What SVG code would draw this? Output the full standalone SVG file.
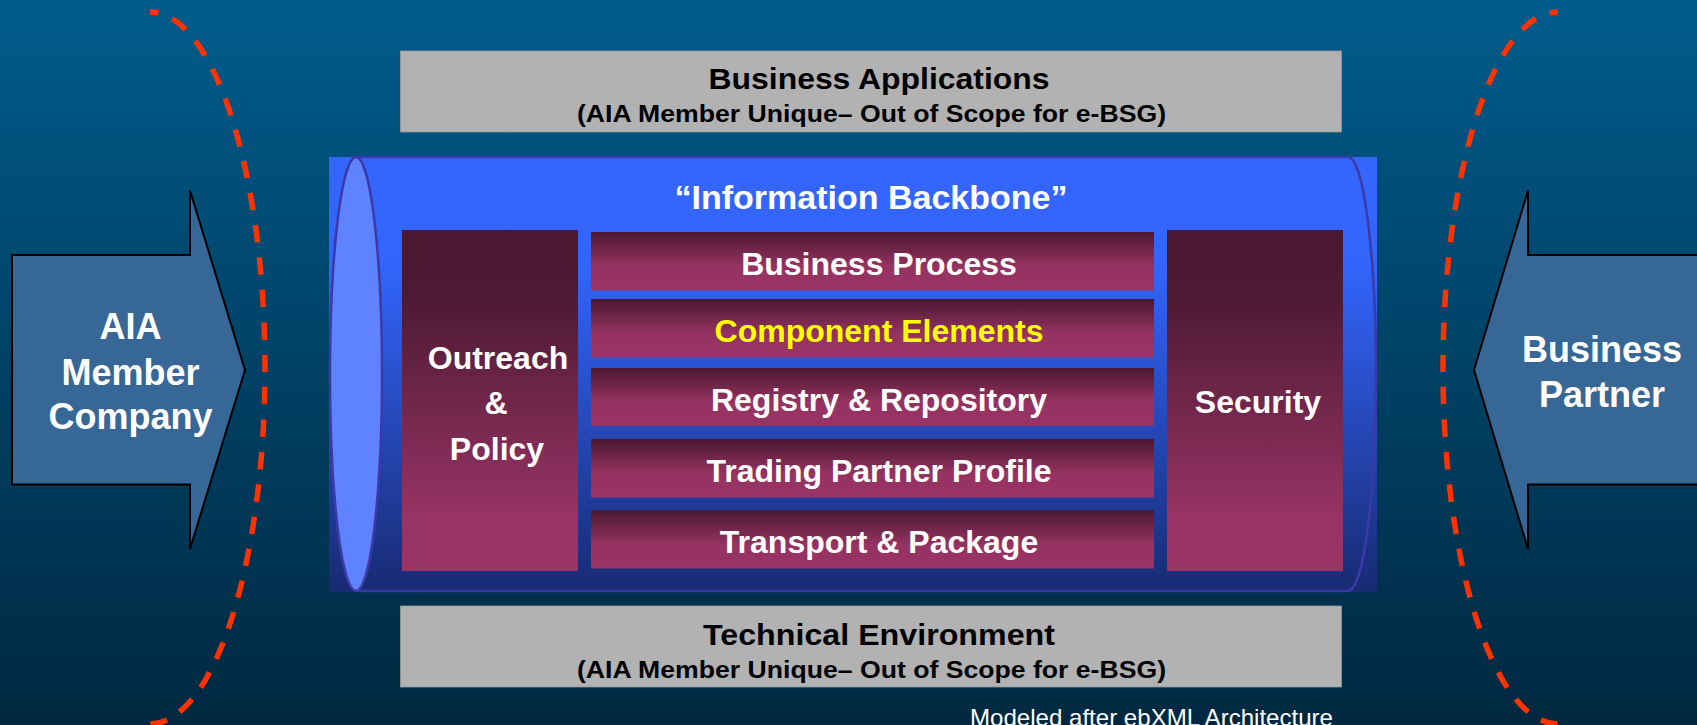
<svg xmlns="http://www.w3.org/2000/svg" width="1697" height="725" viewBox="0 0 1697 725">
  <defs>
    <linearGradient id="bgGrad" x1="0" y1="0" x2="0" y2="1">
      <stop offset="0" stop-color="#005c8c"/>
      <stop offset="1" stop-color="#002840"/>
    </linearGradient>
    <linearGradient id="cylGrad" x1="0" y1="0" x2="0" y2="1">
      <stop offset="0" stop-color="#3466ff"/>
      <stop offset="0.25" stop-color="#3365fc"/>
      <stop offset="1" stop-color="#182a72"/>
    </linearGradient>
    <linearGradient id="sideGrad" x1="0" y1="0" x2="0" y2="1">
      <stop offset="0" stop-color="#4a1830"/>
      <stop offset="0.2" stop-color="#4d1a34"/>
      <stop offset="0.85" stop-color="#983465"/>
      <stop offset="1" stop-color="#993366"/>
    </linearGradient>
    <linearGradient id="rowGrad" x1="0" y1="0" x2="0" y2="1">
      <stop offset="0" stop-color="#4a1830"/>
      <stop offset="0.6" stop-color="#963362"/>
      <stop offset="1" stop-color="#993366"/>
    </linearGradient>
    <style>
      .arrow { fill: #366797; stroke: #000000; stroke-width: 2; stroke-linejoin: miter; }
      .boundary { fill: none; stroke: #ff3300; stroke-width: 5.5; stroke-dasharray: 17.5 15; }
      .gray { fill: #b2b2b2; stroke: #9a9a9a; stroke-width: 0.8; }
      .side { fill: url(#sideGrad); }
      .row { fill: url(#rowGrad); }
      .wt { font-family: "Liberation Sans", Arial, sans-serif; font-weight: bold; fill: #ffffff; text-anchor: middle; }
      .big { font-size: 36px; }
      .mid { font-size: 32px; }
      .yl { fill: #ffff00; }
      .gt { font-family: "Liberation Sans", Arial, sans-serif; font-weight: bold; fill: #000000; text-anchor: middle; }
      .gtitle { font-size: 29px; }
      .gsub { font-size: 23px; }
      .cap { font-family: "Liberation Sans", Arial, sans-serif; font-size: 24px; fill: #ffffff; }
    </style>
  </defs>

  <rect x="0" y="0" width="1697" height="725" fill="url(#bgGrad)"/>

  <g id="boundaries">
    <path class="boundary" d="M150,12 A115,356 0 0 1 150,724" stroke-dashoffset="9"/>
    <path class="boundary" d="M1558,12 A115,356 0 0 0 1558,724" stroke-dashoffset="9"/>
  </g>

  <g id="aia-member-company">
    <path class="arrow" d="M12,255 L190,255 L190,190.5 L245,370 L190,549 L190,484.5 L12,484.5 Z"/>
    <text class="wt big" x="130.5" y="339">AIA</text>
    <text class="wt big" x="130.5" y="384.5">Member</text>
    <text class="wt big" x="130.5" y="429">Company</text>
  </g>

  <g id="business-partner">
    <path class="arrow" d="M1712,255 L1528,255 L1528,190.5 L1474,370 L1528,549 L1528,484.5 L1712,484.5 Z"/>
    <text class="wt big" x="1602" y="361.5">Business</text>
    <text class="wt big" x="1602" y="406.5">Partner</text>
  </g>

  <g id="business-applications">
    <rect class="gray" x="400.5" y="51" width="941" height="81"/>
    <text class="gt gtitle" x="879" y="88.5" textLength="341" lengthAdjust="spacingAndGlyphs">Business Applications</text>
    <text class="gt gsub" x="871.5" y="122" textLength="589" lengthAdjust="spacingAndGlyphs">(AIA Member Unique– Out of Scope for e-BSG)</text>
  </g>

  <g id="information-backbone">
    <rect x="329" y="157" width="1048" height="435" fill="url(#cylGrad)"/>
    <path d="M356,157 L1348,157 A28,217 0 0 1 1348,591 L356,591" fill="none" stroke="#3a3aa8" stroke-width="2.5"/>
    <ellipse cx="356" cy="374" rx="26" ry="217" fill="#5f82ff" stroke="#3a3aa8" stroke-width="2.5"/>
    <text class="wt" x="871" y="209" font-size="34">“Information Backbone”</text>
  </g>

  <g id="outreach-policy">
    <rect class="side" x="402" y="230" width="176" height="341"/>
    <text class="wt mid" x="498" y="368.5">Outreach</text>
    <text class="wt mid" x="496" y="414">&amp;</text>
    <text class="wt mid" x="497" y="460">Policy</text>
  </g>

  <g id="business-process">
    <rect class="row" x="591" y="232" width="563" height="58.5"/>
    <text class="wt mid" x="879" y="274.5">Business Process</text>
  </g>

  <g id="component-elements">
    <rect class="row" x="591" y="299" width="563" height="58.5"/>
    <text class="wt mid yl" x="879" y="341.5">Component Elements</text>
  </g>

  <g id="registry-repository">
    <rect class="row" x="591" y="368" width="563" height="58"/>
    <text class="wt mid" x="879" y="410.5">Registry &amp; Repository</text>
  </g>

  <g id="trading-partner-profile">
    <rect class="row" x="591" y="439" width="563" height="58.5"/>
    <text class="wt mid" x="879" y="482">Trading Partner Profile</text>
  </g>

  <g id="transport-package">
    <rect class="row" x="591" y="510" width="563" height="58.5"/>
    <text class="wt mid" x="879" y="552.5">Transport &amp; Package</text>
  </g>

  <g id="security">
    <rect class="side" x="1167" y="230" width="176" height="341"/>
    <text class="wt mid" x="1258" y="413">Security</text>
  </g>

  <g id="technical-environment">
    <rect class="gray" x="400.5" y="606" width="941" height="81"/>
    <text class="gt gtitle" x="879" y="644.5" textLength="352" lengthAdjust="spacingAndGlyphs">Technical Environment</text>
    <text class="gt gsub" x="871.5" y="678" textLength="589" lengthAdjust="spacingAndGlyphs">(AIA Member Unique– Out of Scope for e-BSG)</text>
  </g>

  <g id="caption">
    <text class="cap" x="970" y="726" textLength="363" lengthAdjust="spacingAndGlyphs">Modeled after ebXML Architecture</text>
  </g>
</svg>
